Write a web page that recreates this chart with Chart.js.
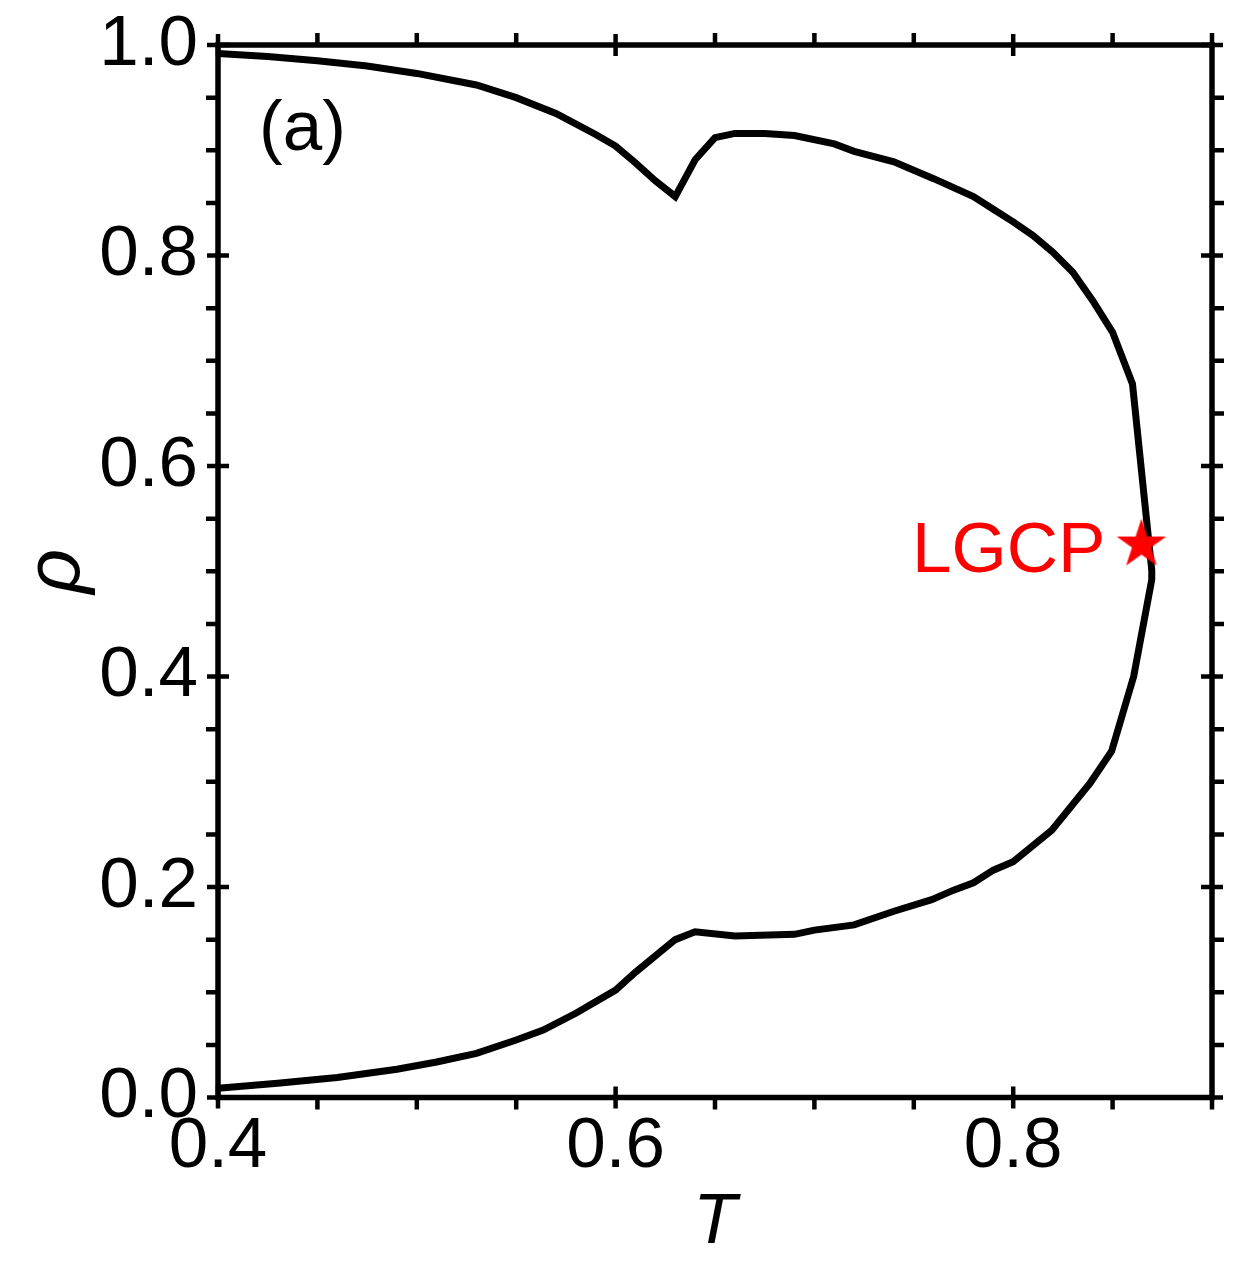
<!DOCTYPE html>
<html>
<head>
<meta charset="utf-8">
<title>Phase diagram (a)</title>
<script src="https://cdn.jsdelivr.net/npm/chart.js@4/dist/chart.umd.min.js"></script>
<style>
    html, body { margin: 0; padding: 0; background: #fff; }
    #chart { display: block; }
</style>
</head>
<body>
<canvas id="chart" width="1243" height="1284"></canvas>
<script>
// coexistence curve: upper branch, critical region, lower branch
const tempT = [
    0.400, 0.425, 0.450, 0.475, 0.500, 0.530, 0.550, 0.570, 0.590, 0.600,
    0.610, 0.620, 0.630, 0.640, 0.650, 0.660, 0.675, 0.690, 0.710, 0.720,
    0.740, 0.760, 0.780, 0.790, 0.800, 0.810, 0.820, 0.830, 0.840, 0.850,
    0.860, 0.8697, 0.8697,
    0.8606, 0.8495, 0.8386, 0.8194, 0.800, 0.790, 0.780, 0.770, 0.759, 0.740,
    0.720, 0.700, 0.690, 0.660, 0.640, 0.630, 0.610, 0.600, 0.580, 0.5636,
    0.550, 0.530, 0.510, 0.490, 0.460, 0.430, 0.400
];
const rho = [
    0.992, 0.989, 0.985, 0.980, 0.973, 0.962, 0.950, 0.935, 0.915, 0.904,
    0.888, 0.871, 0.856, 0.891, 0.912, 0.916, 0.916, 0.914, 0.906, 0.899,
    0.889, 0.873, 0.856, 0.844, 0.832, 0.819, 0.803, 0.784, 0.757, 0.727,
    0.678, 0.501, 0.492,
    0.400, 0.329, 0.2985, 0.254, 0.224, 0.216, 0.204, 0.197, 0.188, 0.177,
    0.164, 0.159, 0.155, 0.1534, 0.1575, 0.150, 0.119, 0.102, 0.080, 0.064,
    0.0546, 0.042, 0.0337, 0.0268, 0.019, 0.0135, 0.0087
];

// liquid-gas critical point
const cpT = [0.8645];
const cpRho = [0.5254];

const xMajor = [0.4, 0.6, 0.8];
const xMinor = [0.45, 0.5, 0.55, 0.65, 0.7, 0.75, 0.85, 0.9];
const yMajor = [0.0, 0.2, 0.4, 0.6, 0.8, 1.0];
const yMinor = [0.05, 0.1, 0.15, 0.25, 0.3, 0.35, 0.45, 0.5, 0.55, 0.65, 0.7, 0.75, 0.85, 0.9, 0.95];

const FONT = 'Liberation Sans, Arial, Helvetica, sans-serif';

function makeStar(r, color) {
    const c = document.createElement('canvas');
    const s = Math.ceil(r * 2 + 2);
    c.width = s;
    c.height = s;
    const g = c.getContext('2d');
    g.fillStyle = color;
    g.beginPath();
    for (let i = 0; i < 10; i++) {
        const rad = i % 2 === 0 ? r : r * 0.382;
        const a = -Math.PI / 2 + i * Math.PI / 5;
        const px = s / 2 + rad * Math.cos(a);
        const py = s / 2 + rad * Math.sin(a);
        if (i === 0) g.moveTo(px, py); else g.lineTo(px, py);
    }
    g.closePath();
    g.fill();
    return c;
}

// box, crossing major ticks, outward minor ticks, and the text labels
const framePlugin = {
    id: 'frame',
    afterDatasetsDraw(chart) {
        const {ctx, chartArea: a, scales: {x, y}} = chart;
        ctx.save();
        ctx.strokeStyle = '#000';
        ctx.lineWidth = 5.5;
        ctx.lineJoin = 'miter';
        ctx.strokeRect(a.left, a.top, a.right - a.left, a.bottom - a.top);

        ctx.lineWidth = 4.5;
        ctx.lineCap = 'butt';
        ctx.beginPath();
        xMajor.forEach(v => {
            const px = x.getPixelForValue(v);
            ctx.moveTo(px, a.bottom - 11); ctx.lineTo(px, a.bottom + 11);
            ctx.moveTo(px, a.top - 11); ctx.lineTo(px, a.top + 11);
        });
        xMinor.forEach(v => {
            const px = x.getPixelForValue(v);
            ctx.moveTo(px, a.bottom); ctx.lineTo(px, a.bottom + 12);
            ctx.moveTo(px, a.top); ctx.lineTo(px, a.top - 12);
        });
        yMajor.forEach(v => {
            const py = y.getPixelForValue(v);
            ctx.moveTo(a.left - 11, py); ctx.lineTo(a.left + 11, py);
            ctx.moveTo(a.right - 11, py); ctx.lineTo(a.right + 11, py);
        });
        yMinor.forEach(v => {
            const py = y.getPixelForValue(v);
            ctx.moveTo(a.left, py); ctx.lineTo(a.left - 12, py);
            ctx.moveTo(a.right, py); ctx.lineTo(a.right + 12, py);
        });
        ctx.stroke();

        ctx.font = '71px ' + FONT;
        ctx.textBaseline = 'alphabetic';
        ctx.fillStyle = '#000';
        ctx.textAlign = 'left';
        ctx.fillText('(a)', a.left + 41, a.top + 105);

        const sx = x.getPixelForValue(cpT[0]);
        const sy = y.getPixelForValue(cpRho[0]);
        ctx.fillStyle = '#ff0000';
        ctx.textAlign = 'right';
        ctx.fillText('LGCP', sx - 36, sy + 27);
        ctx.restore();
    }
};

const ctx = document.getElementById('chart').getContext('2d');
new Chart(ctx, {
    type: 'scatter',
    data: {
        datasets: [
            {
                label: 'LGCP',
                data: cpT.map((t, i) => ({x: t, y: cpRho[i]})),
                pointStyle: makeStar(26, '#ff0000'),
                pointRadius: 27,
                showLine: false
            },
            {
                label: 'coexistence',
                data: tempT.map((t, i) => ({x: t, y: rho[i]})),
                showLine: true,
                borderColor: '#000',
                borderWidth: 7,
                pointRadius: 0,
                tension: 0,
                fill: false
            }
        ]
    },
    options: {
        responsive: false,
        devicePixelRatio: 1,
        animation: false,
        layout: {
            padding: {left: 0, top: 45, right: 31, bottom: 0}
        },
        plugins: {
            legend: {display: false},
            tooltip: {enabled: false}
        },
        scales: {
            x: {
                type: 'linear',
                min: 0.4,
                max: 0.9,
                border: {display: false},
                grid: {display: false, drawTicks: false},
                afterBuildTicks: scale => { scale.ticks = xMajor.map(v => ({value: v})); },
                afterFit: scale => {
                    scale.height = 186.5;
                    scale.paddingLeft = 0;
                    scale.paddingRight = 0;
                },
                ticks: {
                    autoSkip: false,
                    maxRotation: 0,
                    padding: 7,
                    color: '#000',
                    font: {family: FONT, size: 71},
                    callback: v => v.toFixed(1)
                },
                title: {
                    display: true,
                    text: 'T',
                    color: '#000',
                    padding: {top: 0, bottom: 18},
                    font: {family: FONT, size: 71, style: 'italic'}
                }
            },
            y: {
                type: 'linear',
                min: 0,
                max: 1,
                border: {display: false},
                grid: {display: false, drawTicks: false},
                afterBuildTicks: scale => { scale.ticks = yMajor.map(v => ({value: v})); },
                afterFit: scale => {
                    scale.width = 218;
                    scale.paddingTop = 0;
                    scale.paddingBottom = 0;
                },
                ticks: {
                    autoSkip: false,
                    padding: 20,
                    color: '#000',
                    font: {family: FONT, size: 71},
                    callback: v => v.toFixed(1)
                },
                title: {
                    display: true,
                    text: 'ρ',
                    color: '#000',
                    padding: {top: 10, bottom: 0},
                    font: {family: FONT, size: 78, style: 'italic'}
                }
            }
        }
    },
    plugins: [framePlugin]
});
</script>
</body>
</html>
